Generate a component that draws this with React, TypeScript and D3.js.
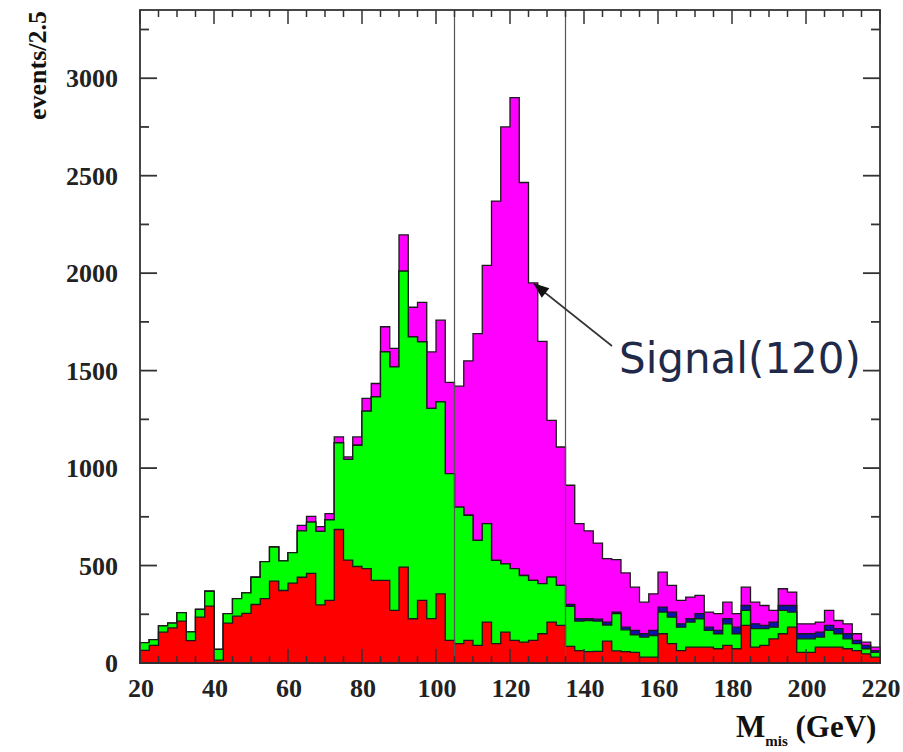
import React from "react";
import * as d3 from "d3";

// M_mis histogram, 2.5 GeV bins from 20 to 220 GeV (80 bins), stacked bottom -> top
const binStart = 20;
const binWidth = 2.5;

const red = [
  65, 90, 158, 180, 215, 115, 235, 292, 15, 205, 240, 255, 300, 330, 420, 372, 410, 440, 460, 298,
  321, 685, 528, 495, 484, 424, 424, 270, 492, 227, 321, 228, 355, 116, 99, 116, 90, 210, 99, 158,
  116, 107, 116, 150, 210, 193, 85, 64, 58, 60, 112, 62, 58, 55, 30, 30, 150, 99, 64, 81,
  81, 81, 73, 90, 73, 193, 81, 90, 124, 150, 184, 55, 55, 81, 81, 81, 73, 64, 47, 30,
];

const green = [
  40, 30, 32, 25, 43, 45, 40, 76, 55, 48, 90, 105, 140, 190, 175, 152, 156, 238, 263, 377,
  414, 445, 517, 622, 808, 941, 1172, 1249, 1518, 1446, 1327, 1078, 985, 856, 701, 642, 539, 505, 427, 351,
  368, 342, 308, 257, 231, 205, 205, 151, 160, 155, 83, 191, 112, 90, 103, 111, 111, 136, 120, 129,
  146, 86, 77, 111, 77, 77, 95, 86, 60, 120, 77, 69, 69, 52, 86, 69, 51, 35, 26, 25,
];

const blue = [
  0, 0, 0, 0, 0, 0, 0, 0, 0, 0, 0, 0, 0, 0, 0, 0, 0, 0, 0, 0,
  0, 0, 0, 0, 0, 0, 0, 0, 0, 0, 0, 0, 0, 0, 0, 0, 0, 0, 0, 0,
  0, 0, 0, 0, 0, 0, 10, 12, 9, 10, 15, 8, 14, 22, 17, 26, 26, 26, 17, 17,
  26, 17, 17, 26, 34, 25, 25, 17, 26, 25, 34, 26, 26, 25, 26, 26, 26, 17, 17, 9,
];

const magenta = [
  0, 0, 0, 0, 0, 0, 0, 0, 0, 0, 0, 0, 0, 0, 0, 0, 0, 28, 29, 25,
  31, 30, 12, 43, 66, 69, 129, 95, 186, 152, 202, 290, 419, 468, 620, 792, 1061, 1325, 1844, 2241,
  2416, 2016, 1526, 1243, 804, 710, 612, 488, 451, 390, 325, 269, 278, 222, 162, 188, 179, 137, 120, 111,
  94, 77, 86, 85, 69, 94, 111, 102, 60, 86, 69, 51, 51, 52, 77, 42, 51, 34, 17, 17,
];

const xTickLabels = [20, 40, 60, 80, 100, 120, 140, 160, 180, 200, 220];
const yTickLabels = [0, 500, 1000, 1500, 2000, 2500, 3000];
const cutLines = [105, 135];

const W = 903;
const H = 752;
const left = 140;
const right = 880;
const top = 10;
const bottom = 663;

const x = d3.scaleLinear().domain([20, 220]).range([left, right]);
const y = d3.scaleLinear().domain([0, 3350]).range([bottom, top]);

function cumulate(...layers: number[][]) {
  return layers[0].map((_, i) => layers.reduce((s, l) => s + l[i], 0));
}

const layers = [
  { name: "signal", fill: "#ff00ff", values: cumulate(red, green, blue, magenta) },
  { name: "blue", fill: "#1010b0", values: cumulate(red, green, blue) },
  { name: "green", fill: "#00ff00", values: cumulate(red, green) },
  { name: "red", fill: "#ff0000", values: red },
];

const area = d3
  .area<[number, number]>()
  .x((d) => x(d[0]))
  .y0(y(0))
  .y1((d) => y(d[1]))
  .curve(d3.curveStepAfter);

function stepPoints(vals: number[]): [number, number][] {
  const pts: [number, number][] = vals.map((v, i) => [binStart + i * binWidth, v]);
  pts.push([binStart + vals.length * binWidth, vals[vals.length - 1]]);
  return pts;
}

const serif = "'Liberation Serif', 'Times New Roman', serif";

export default function App() {
  const xMinor = d3.range(20, 221, 5);
  const yMinor = d3.range(0, 3351, 250);

  const tipX = 533;
  const tipY = 283;
  const tailX = 612;
  const tailY = 346;
  const ang = Math.atan2(tipY - tailY, tipX - tailX);
  const ah = 16;
  const aw = 6;
  const head = [
    [tipX, tipY],
    [tipX - ah * Math.cos(ang) + aw * Math.sin(ang), tipY - ah * Math.sin(ang) - aw * Math.cos(ang)],
    [tipX - ah * Math.cos(ang) - aw * Math.sin(ang), tipY - ah * Math.sin(ang) + aw * Math.cos(ang)],
  ]
    .map((p) => p.join(","))
    .join(" ");

  return (
    <svg
      width={W}
      height={H}
      style={{ position: "absolute", left: 0, top: 0, background: "#fff" }}
    >
      <rect x={0} y={0} width={W} height={H} fill="#fff" />

      {layers.map((l) => (
        <path
          key={l.name}
          d={area(stepPoints(l.values)) || ""}
          fill={l.fill}
          stroke="#1a1a1a"
          strokeWidth={1.3}
          strokeLinejoin="miter"
        />
      ))}

      {cutLines.map((c) => (
        <line key={c} x1={x(c)} x2={x(c)} y1={top} y2={bottom} stroke="#555" strokeWidth={1.2} />
      ))}

      {/* frame */}
      <rect
        x={left}
        y={top}
        width={right - left}
        height={bottom - top}
        fill="none"
        stroke="#333"
        strokeWidth={1.8}
      />

      {/* x ticks (bottom and top, pointing inward) */}
      {xMinor.map((v) => {
        const len = v % 20 === 0 ? 14 : 7;
        return (
          <g key={"xt" + v} stroke="#333" strokeWidth={1.5}>
            <line x1={x(v)} x2={x(v)} y1={bottom} y2={bottom - len} />
            <line x1={x(v)} x2={x(v)} y1={top} y2={top + len} />
          </g>
        );
      })}

      {/* y ticks (left and right, pointing inward) */}
      {yMinor.map((v) => {
        const len = v % 500 === 0 ? 17 : 9;
        return (
          <g key={"yt" + v} stroke="#333" strokeWidth={1.8}>
            <line x1={left} x2={left + len} y1={y(v)} y2={y(v)} />
            <line x1={right} x2={right - len} y1={y(v)} y2={y(v)} />
          </g>
        );
      })}

      {xTickLabels.map((v) => (
        <text
          key={"xl" + v}
          x={x(v) + 1}
          y={697}
          textAnchor="middle"
          fontFamily={serif}
          fontWeight="bold"
          fontSize={26}
          fill="#222"
        >
          {v}
        </text>
      ))}

      {yTickLabels.map((v) => (
        <text
          key={"yl" + v}
          x={118}
          y={y(v) + 9}
          textAnchor="end"
          fontFamily={serif}
          fontWeight="bold"
          fontSize={26}
          fill="#222"
        >
          {v}
        </text>
      ))}

      <text
        transform="translate(46,11) rotate(-90)"
        textAnchor="end"
        fontFamily={serif}
        fontWeight="bold"
        fontSize={26}
        fill="#111"
      >
        events/2.5
      </text>

      <text x={736} y={737} fontFamily={serif} fontWeight="bold" fontSize={31} fill="#111">
        M
        <tspan fontSize={15} dy={9}>
          mis
        </tspan>
        <tspan fontSize={31} dy={-9}>
          {" (GeV)"}
        </tspan>
      </text>

      {/* annotation */}
      <line x1={tailX} y1={tailY} x2={tipX + 8} y2={tipY + 6.5} stroke="#333" strokeWidth={1.6} />
      <polygon points={head} fill="#111" />
      <text
        x={619}
        y={373}
        fontFamily="'DejaVu Sans', Verdana, sans-serif"
        fontSize={42}
        fill="#1f2a4a"
      >
        Signal(120)
      </text>
    </svg>
  );
}
